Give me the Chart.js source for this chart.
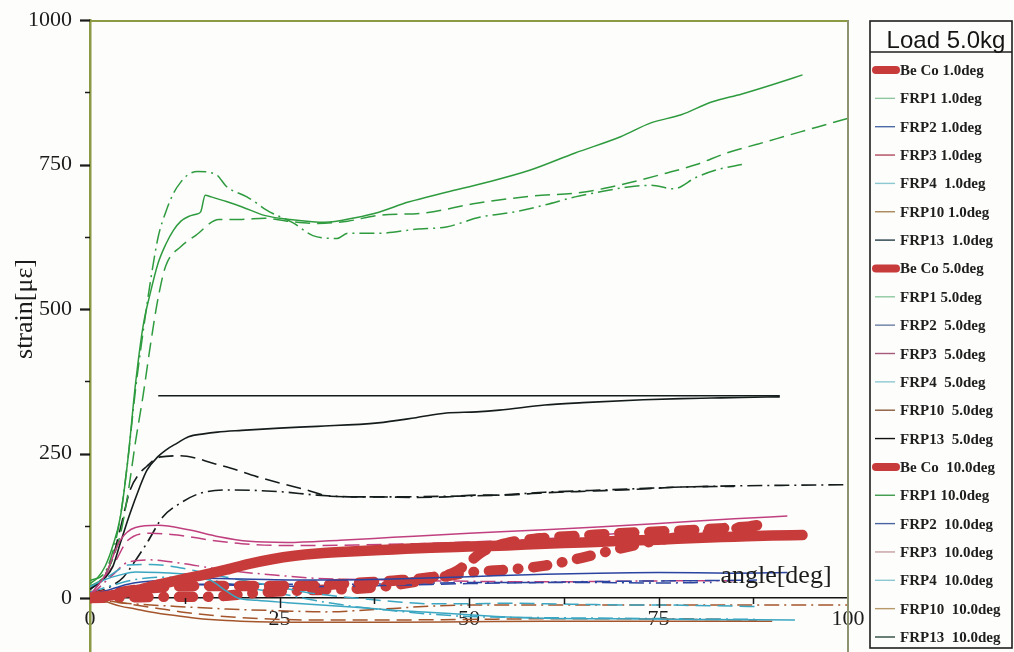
<!DOCTYPE html>
<html>
<head>
<meta charset="utf-8">
<script src="https://cdn.jsdelivr.net/npm/chart.js@4.4.1/dist/chart.umd.min.js"></script>
<style>
  html, body { margin: 0; padding: 0; background: #fdfdfb; }
  canvas { display: block; }
</style>
</head>
<body>
<canvas id="strainChart" width="1014" height="652"></canvas>
<script>
// ---- axis ticks ----
const xTickValues = [0, 12.5, 25, 37.5, 50, 62.5, 75, 87.5, 100];
const xTickLabels = [0, 25, 50, 75, 100];
const yTickValues = [0, 125, 250, 375, 500, 625, 750, 875, 1000];
const yTickLabels = [0, 250, 500, 750, 1000];

// ---- series: [angle deg, strain µε] ----
const beCo1 = [[0,0],[3,5],[6,13],[9,23],[12,32],[15,40],[18,49],[21,59],[24,67],[27,73],[30,77],[35,81],[40,84],[45,87],[50,89],[55,91],[60,94],[65,96],[70,99],[75,101],[80,104],[85,106],[90,108],[94,109]];
const frp1_1 = [[0,25],[1,35],[2,55],[3,90],[4,140],[5,240],[6,370],[7,470],[8,530],[9,580],[10,612],[11,636],[12,652],[13,660],[14,664],[14.6,668],[15.2,697],[16,694],[18,686],[20,677],[23,662],[27,654],[31,650],[35,658],[38,667],[42,685],[47,702],[52,718],[58,740],[64,770],[70,798],[74,822],[78,836],[82,858],[86,872],[90,888],[94,905]];
const frp2_1 = [[0,5],[2,12],[5,24],[10,31],[15,34],[20,33],[30,31],[40,33],[50,37],[60,41],[67,43],[75,44],[85,43],[92,44]];
const frp3_1 = [[0,5],[2,40],[4,100],[6,122],[9,126],[13,118],[17,106],[21,98],[26,96],[33,100],[40,105],[50,112],[60,118],[67,123],[75,129],[85,137],[92,142]];
const frp4_1 = [[0,20],[2,32],[4,40],[6,45],[9,44],[12,42],[14,40],[16,30],[18,12],[19.5,0],[22,-4],[26,-8],[30.5,-12],[35,-16],[40,-21],[44,-24],[50,-29],[55,-33],[60,-35],[70,-36],[80,-37],[93,-38]];
const frp10_1 = [[0,0],[2,-6],[4,-14],[6,-19],[8,-24],[11,-30],[14,-35],[18,-39],[22,-41],[30,-42],[40,-42],[50,-41],[60,-40],[70,-40],[80,-40],[90,-40]];
const frp13_1 = [[0,15],[2,35],[3,54],[4,95],[5.3,147],[6.5,190],[7.5,221],[9,245],[10,256],[11.5,268],[13,279],[15,284],[16.8,287],[20,290],[25,294],[30,297],[38,303],[43,312],[47,320],[51,322],[54,325],[60,334],[65,338],[73,343],[78,345],[82,346],[86,347],[91,348]];
const beCo5 = [[0,0],[3,8],[6,14],[10,19],[15,21],[20,21],[25,21],[30,22],[35,26],[40,30],[45,36],[48,44],[50,62],[52,82],[55,95],[60,104],[65,108],[70,112],[75,115],[80,118],[85,122],[89,125]];
const frp1_5 = [[0,20],[2,40],[4,110],[5,180],[6,270],[7,350],[8,440],[9,520],[10,575],[12,608],[14,628],[17,655],[20,655],[23,657],[26,652],[30,648],[34,652],[38,662],[44,666],[51,683],[58,695],[65,702],[70,715],[76,735],[80,750],[84,770],[88,785],[92,800],[96,815],[100,830]];
const frp2_5 = [[0,3],[3,12],[6,19],[10,23],[20,22],[30,20],[40,22],[50,25],[60,27],[70,29],[80,30],[88,31]];
const frp3_5 = [[0,5],[3,55],[5,100],[8,112],[12,108],[16,100],[20,94],[25,91],[30,91],[36,92],[43,94],[50,97],[58,101],[64,106],[70,112]];
const frp4_5 = [[0,15],[3,42],[5,57],[8,58],[12,52],[15,44],[18,36],[22,26],[26,16],[30,7],[35,0],[40,-6],[45,-10],[50,-10],[55,-9],[60,-10],[65,-11],[70,-12],[75,-12],[80,-13],[85,-14],[88,-15]];
const frp10_5 = [[0,0],[3,-6],[6,-12],[9,-18],[12,-24],[16,-30],[20,-34],[25,-37],[30,-38],[40,-38],[50,-37],[60,-36],[70,-36],[80,-37],[88,-38]];
const frp13_5 = [[0,15],[2,40],[3,70],[4,120],[5.3,187],[6.5,215],[7.5,228],[8.8,242],[10,245],[11.9,246],[14,242],[16,234],[18.5,225],[22,210],[25,199],[28.6,187],[31.7,176],[35,175],[38,175],[43,174],[47,175],[51,178],[54,178],[60,182],[66,185],[72,188],[78,192],[85,193]];
const beCo10 = [[0,0],[5,1],[10,2],[15,2],[18,4],[22,9],[26,12],[30,14],[35,16],[40,22],[45,33],[50,44],[55,49],[60,56],[65,70],[70,86],[75,100],[80,110],[85,120],[88,126]];
const frp1_10 = [[0,30],[2,45],[3,80],[4,140],[5,240],[6,360],[7,460],[8,550],[9,625],[10,668],[11,700],[12,720],[13,733],[14.2,738],[16.7,732],[18,712],[20.7,694],[22,683],[23.3,671],[26.8,649],[29.4,627],[32.6,622],[34,631],[38,631],[43,638],[47,642],[51.5,659],[56,668],[60,680],[64,694],[67,702],[71,711],[74,714],[77,708],[80,728],[83,742],[86,750]];
const frp2_10 = [[0,2],[4,14],[8,20],[15,24],[25,24],[35,24],[45,26],[55,27],[65,27],[75,26],[82,27]];
const frp3_10 = [[0,3],[3,40],[5,62],[8,66],[12,60],[16,52],[20,45],[25,39],[30,34],[40,31],[50,29],[60,28],[70,29],[80,30],[85,30]];
const frp4_10 = [[0,10],[3,22],[6,32],[10,36],[15,33],[20,20],[25,8],[30,-5],[35,-15],[40,-22],[45,-28],[50,-32],[60,-34],[70,-35],[80,-36],[88,-37]];
const frp10_10 = [[0,0],[4,-8],[8,-12],[12,-15],[18,-19],[25,-22],[31,-24],[35,-22],[40,-18],[45,-14],[50,-12],[60,-12],[70,-12],[80,-12],[90,-12],[100,-12]];
const frp13_10 = [[0,10],[2,15],[3,22],[4.4,36],[6,65],[7.5,95],[9.6,140],[11.9,164],[14.5,181],[18.5,187],[25,184],[30,178],[35,175],[40,175],[47,176],[54,178],[60,183],[66,186],[72,189],[78,192],[85,194],[92,195],[100,196]];
// saturated FRP13 trace, flat at the gauge limit
const frp13Limit = [[9,350],[91,350]];

const seriesLabels = [
  'Be Co 1.0deg', 'FRP1 1.0deg', 'FRP2 1.0deg', 'FRP3 1.0deg', 'FRP4  1.0deg', 'FRP10 1.0deg', 'FRP13  1.0deg',
  'Be Co 5.0deg', 'FRP1 5.0deg', 'FRP2  5.0deg', 'FRP3  5.0deg', 'FRP4  5.0deg', 'FRP10  5.0deg', 'FRP13  5.0deg',
  'Be Co  10.0deg', 'FRP1 10.0deg', 'FRP2  10.0deg', 'FRP3  10.0deg', 'FRP4  10.0deg', 'FRP10  10.0deg', 'FRP13  10.0deg'
];
const seriesData = [
  beCo1, frp1_1, frp2_1, frp3_1, frp4_1, frp10_1, frp13_1,
  beCo5, frp1_5, frp2_5, frp3_5, frp4_5, frp10_5, frp13_5,
  beCo10, frp1_10, frp2_10, frp3_10, frp4_10, frp10_10, frp13_10
];

// ---- styling per specimen / angle ----
const specimenColors = ['#c83b3b', '#2f9b3f', '#2a44a0', '#c0407f', '#3aa6c2', '#a4552c', '#151c1c'];
const legendColors = ['#c83b3b', '#8fc8a0', '#4d6aa8', '#b04a5c', '#8cc8d2', '#a88658', '#243c48',
                      '#c83b3b', '#8fc8a0', '#6a7ea4', '#a85a7c', '#8cc8d2', '#8a5a3a', '#111111',
                      '#c83b3b', '#3a9a4a', '#4a64a0', '#c4a0a0', '#8cc8d2', '#b89a6a', '#2a4a3a'];
const angleDash = [[], [15, 7], [15, 5, 2, 5]];
const thickDash = [[], [15, 15], [14, 15, 0.5, 15]];

const datasets = seriesData.map((d, i) => {
  const spec = i % 7, ang = Math.floor(i / 7);
  const thick = spec === 0;
  return {
    label: seriesLabels[i],
    data: d,
    borderColor: specimenColors[spec],
    borderWidth: thick ? 10.5 : (spec === 6 ? 1.6 : 1.5),
    borderDash: thick ? thickDash[ang] : angleDash[ang],
    borderCapStyle: thick ? 'round' : 'butt',
    borderJoinStyle: 'round',
    pointRadius: 0,
    tension: 0.25,
    cubicInterpolationMode: 'monotone',
    legendColor: legendColors[i],
    legendThick: thick
  };
});
datasets.push({
  label: '',
  data: frp13Limit,
  borderColor: '#151c1c',
  borderWidth: 1.6,
  pointRadius: 0,
  tension: 0
});

const serif = '"Liberation Serif", "DejaVu Serif", serif';

// chart frame (top + right edges), tick marks and axis titles
const framePlugin = {
  id: 'frame',
  afterDraw(chart) {
    const { ctx, chartArea: a, scales: { x, y } } = chart;
    ctx.save();
    ctx.strokeStyle = '#8c9a46';
    ctx.lineWidth = 2;
    ctx.beginPath();
    ctx.moveTo(a.left, a.top + 1);
    ctx.lineTo(a.right, a.top + 1);
    ctx.stroke();
    ctx.strokeStyle = '#8e9470';
    ctx.beginPath();
    ctx.moveTo(a.right, a.top);
    ctx.lineTo(a.right, a.bottom);
    ctx.stroke();

    // tick marks
    ctx.strokeStyle = '#1a1a1a';
    const y0 = y.getPixelForValue(0);
    xTickValues.forEach(v => {
      if (v === 0 || v === 100) return;
      const px = Math.round(x.getPixelForValue(v)) + 0.5;
      const len = xTickLabels.includes(v) ? 10 : 6;
      ctx.lineWidth = 1.5;
      ctx.beginPath();
      ctx.moveTo(px, y0);
      ctx.lineTo(px, y0 + len);
      ctx.stroke();
    });
    yTickValues.forEach(v => {
      const py = Math.round(y.getPixelForValue(v)) + 0.5;
      const major = yTickLabels.includes(v);
      ctx.lineWidth = major ? 2.2 : 1.5;
      ctx.beginPath();
      ctx.moveTo(a.left - (major ? 10 : 5), py);
      ctx.lineTo(a.left, py);
      ctx.stroke();
    });

    // axis titles
    ctx.fillStyle = '#1c1c1c';
    ctx.font = '26px ' + serif;
    ctx.textAlign = 'center';
    ctx.textBaseline = 'middle';
    ctx.save();
    ctx.translate(25, y.getPixelForValue(500));
    ctx.rotate(-Math.PI / 2);
    ctx.fillText('strain[με]', 0, 0);
    ctx.restore();
    ctx.textBaseline = 'alphabetic';
    ctx.fillText('angle[deg]', x.getPixelForValue(90.5), y0 - 15);
    ctx.restore();
  }
};

// boxed legend on the right
const boxLegend = {
  id: 'boxLegend',
  afterDraw(chart) {
    const { ctx, chartArea: a } = chart;
    const left = a.right + 22, right = 1012, top = 21, bottom = 648;
    ctx.save();
    ctx.fillStyle = '#fdfdfb';
    ctx.fillRect(left, top, right - left, bottom - top);
    ctx.strokeStyle = '#1e1e1e';
    ctx.lineWidth = 1.6;
    ctx.strokeRect(left, top, right - left, bottom - top);
    ctx.beginPath();
    ctx.moveTo(left, 52);
    ctx.lineTo(right, 52);
    ctx.stroke();

    ctx.fillStyle = '#151515';
    ctx.font = '24px "Liberation Sans", Arial, sans-serif';
    ctx.textAlign = 'center';
    ctx.fillText('Load 5.0kg', left + 76, 48);

    ctx.textAlign = 'left';
    ctx.font = 'bold 15px ' + serif;
    const items = chart.data.datasets.filter(ds => ds.label);
    items.forEach((ds, i) => {
      const cy = 70 + i * 28.35;
      ctx.beginPath();
      if (ds.legendThick) {
        ctx.strokeStyle = ds.legendColor;
        ctx.lineWidth = 8;
        ctx.lineCap = 'round';
        ctx.moveTo(left + 6, cy);
        ctx.lineTo(left + 26, cy);
      } else {
        ctx.strokeStyle = ds.legendColor;
        ctx.lineWidth = 1.4;
        ctx.lineCap = 'butt';
        ctx.moveTo(left + 5, cy);
        ctx.lineTo(left + 25, cy);
      }
      ctx.stroke();
      ctx.fillStyle = '#1e1e1e';
      ctx.fillText(ds.label, left + 30, cy + 5);
    });
    ctx.restore();
  }
};

new Chart(document.getElementById('strainChart'), {
  type: 'line',
  data: { datasets },
  plugins: [framePlugin, boxLegend],
  options: {
    responsive: false,
    animation: false,
    events: [],
    layout: { padding: { top: 20, right: 166, bottom: 0, left: 0 } },
    plugins: { legend: { display: false }, tooltip: { enabled: false } },
    scales: {
      x: {
        type: 'linear',
        min: 0,
        max: 100,
        position: { y: 0 },
        afterBuildTicks: s => { s.ticks = xTickValues.map(v => ({ value: v })); },
        afterFit: s => { s.paddingLeft = 0; s.paddingRight = 0; },
        ticks: {
          autoSkip: false,
          maxRotation: 0,
          padding: 8,
          color: '#1c1c1c',
          font: { family: serif, size: 22 },
          callback: v => xTickLabels.includes(v) ? String(v) : ''
        },
        grid: { color: 'rgba(0,0,0,0)', drawOnChartArea: false, drawTicks: false },
        border: { display: true, color: '#161616', width: 1.6 }
      },
      y: {
        type: 'linear',
        min: -93.4,
        max: 1000,
        afterBuildTicks: s => { s.ticks = yTickValues.map(v => ({ value: v })); },
        afterFit: s => { s.width = 90; s.paddingTop = 0; s.paddingBottom = 0; },
        ticks: {
          autoSkip: false,
          padding: 18,
          color: '#1c1c1c',
          font: { family: serif, size: 22 },
          callback: v => yTickLabels.includes(v) ? String(v) : ''
        },
        grid: { color: 'rgba(0,0,0,0)', drawOnChartArea: false, drawTicks: false },
        border: { display: true, color: '#8c9a46', width: 2.5 }
      }
    }
  }
});
</script>
</body>
</html>
